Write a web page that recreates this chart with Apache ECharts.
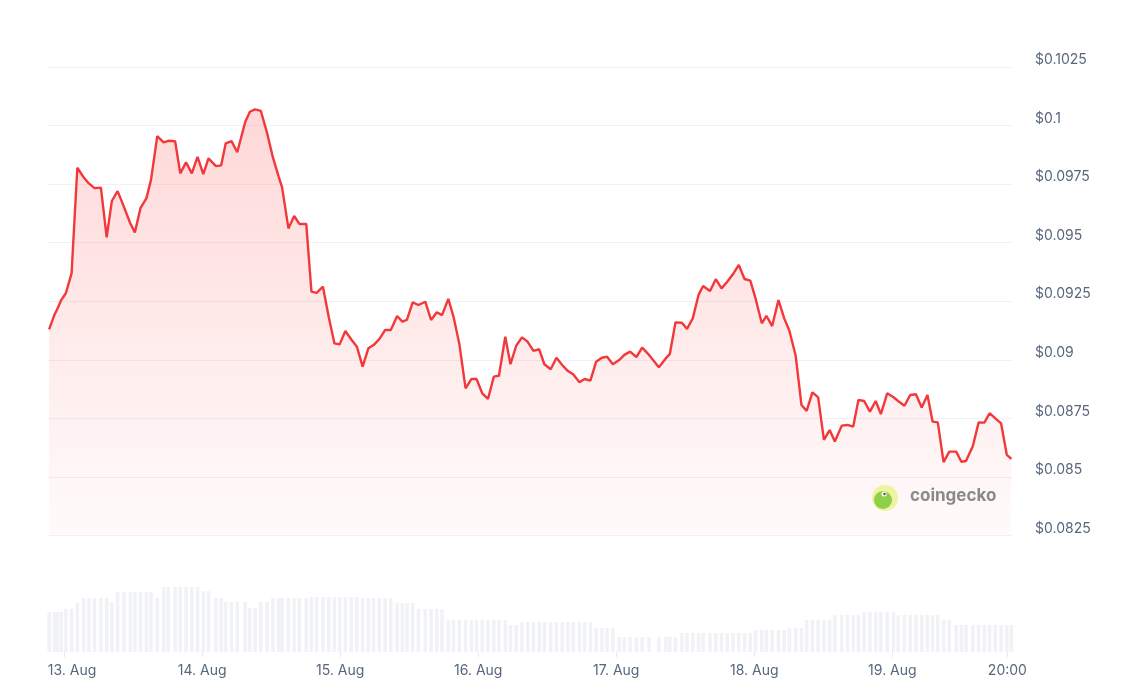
<!DOCTYPE html>
<html>
<head>
<meta charset="utf-8">
<script src="https://cdn.jsdelivr.net/npm/echarts@6/dist/echarts.min.js"></script>
<style>
html,body{margin:0;padding:0;background:#fff;}
#chart{width:1141px;height:695px;}
</style>
</head>
<body>
<div id="chart"></div>
<script>
// Hours since 13 Aug 00:00
const hours = [
-2.6,-1.7,-1.2,-0.5,0.3,1.3,2.3,3.4,4.3,5.3,
6.4,7.4,8.3,9.3,10.4,11.5,12.3,13.3,14.3,15.1,
16.2,17.3,18.1,19.3,20.2,21.2,22.2,23.2,24.2,25.1,
26.4,27.3,28.1,29.1,30.1,31.5,32.3,33.2,34.2,35.3,
36.3,37.3,37.9,39.0,40.0,40.9,42.1,43.0,43.9,45.0,
46.0,47.0,47.9,48.9,49.9,50.9,51.9,52.9,53.8,54.8,
55.8,56.8,57.9,58.8,59.6,60.6,61.6,62.8,63.8,64.8,
65.7,66.8,67.7,68.7,69.8,70.8,71.7,72.7,73.7,74.7,
75.6,76.7,77.6,78.6,79.6,80.6,81.6,82.6,83.5,84.6,
85.6,86.6,87.6,88.5,89.6,90.5,91.5,92.5,93.5,94.4,
95.4,96.5,97.4,98.4,99.5,100.5,101.7,103.4,104.6,105.3,
106.3,107.4,108.3,109.3,110.3,111.1,112.3,113.3,114.3,115.3,
116.3,117.3,118.3,119.3,120.2,121.3,122.1,123.1,124.2,125.2,
126.1,127.2,128.2,129.1,130.1,131.1,132.1,133.1,134.0,135.2,
136.2,137.2,138.1,139.1,140.1,141.1,142.0,143.1,144.2,145.0,
146.1,147.1,148.1,149.1,150.1,151.0,151.9,152.9,153.9,155.1,
156.0,156.8,158.0,159.0,160.0,160.9,161.9,162.9,163.9,164.7
];

const prices = [
0.09130,0.09191,0.09216,0.09255,0.09284,0.09369,0.09820,0.09779,0.09753,0.09733,
0.09735,0.09523,0.09678,0.09720,0.09653,0.09583,0.09544,0.09649,0.09689,0.09767,
0.09955,0.09928,0.09935,0.09933,0.09796,0.09843,0.09796,0.09866,0.09793,0.09860,
0.09827,0.09830,0.09924,0.09934,0.09886,0.10016,0.10059,0.10069,0.10063,0.09967,
0.09864,0.09782,0.09736,0.09561,0.09614,0.09580,0.09580,0.09291,0.09286,0.09312,
0.09184,0.09070,0.09066,0.09123,0.09088,0.09056,0.08971,0.09049,0.09063,0.09088,
0.09127,0.09127,0.09187,0.09163,0.09170,0.09245,0.09234,0.09248,0.09170,0.09203,
0.09191,0.09260,0.09184,0.09070,0.08878,0.08918,0.08918,0.08857,0.08833,0.08928,
0.08932,0.09099,0.08981,0.09060,0.09096,0.09077,0.09038,0.09045,0.08981,0.08960,
0.09009,0.08978,0.08952,0.08938,0.08904,0.08918,0.08911,0.08992,0.09009,0.09013,
0.08981,0.08999,0.09021,0.09035,0.09012,0.09052,0.09021,0.08968,0.09006,0.09024,
0.09160,0.09158,0.09132,0.09177,0.09277,0.09315,0.09294,0.09344,0.09305,0.09333,
0.09366,0.09405,0.09345,0.09338,0.09263,0.09156,0.09188,0.09144,0.09255,0.09177,
0.09124,0.09016,0.08807,0.08782,0.08861,0.08840,0.08658,0.08700,0.08651,0.08719,
0.08722,0.08715,0.08829,0.08824,0.08779,0.08824,0.08768,0.08857,0.08840,0.08824,
0.08804,0.08850,0.08853,0.08796,0.08850,0.08736,0.08733,0.08563,0.08608,0.08608,
0.08565,0.08568,0.08632,0.08733,0.08732,0.08772,0.08750,0.08729,0.08594,0.08577
];

// Volume (relative units)
const volumes = [
40,40,40,40,43,43,49,54,54,54,
54,54,50,60,60,60,60,60,60,60,
54,65,65,65,65,65,65,65,61,61,
54,54,50,50,50,50,44,44,50,50,
54,54,54,54,54,54,54,55,55,55,
55,55,55,55,55,55,54,54,54,54,
54,54,49,49,49,49,43,43,43,43,
43,32,32,32,32,32,32,32,32,32,
32,32,27,27,30,30,30,30,30,30,
30,30,30,30,30,30,30,24,24,24,
24,15,15,15,15,15,15,15,15,15,
15,19,19,19,19,19,19,19,19,19,
19,19,19,19,22,22,22,22,22,22,
24,24,24,32,32,32,32,32,37,37,
37,37,37,40,40,40,40,40,40,37,
37,37,37,37,37,37,37,32,32,27,
27,27,27,27,27,27,27,27,27,27
];

const tickHours = [0, 24, 48, 72, 96, 120, 144, 164];
const tickLabels = ['13. Aug', '14. Aug', '15. Aug', '16. Aug', '17. Aug', '18. Aug', '19. Aug', '20:00'];

const priceData = hours.map((h, i) => [h, prices[i]]);
const volData = hours.map((h, i) => [h, volumes[i]]);

const FONT = 'Inter, "Noto Sans", sans-serif';
const LABEL = '#58667e';
const xMin = -2.8, xMax = 164.8;

const chart = echarts.init(document.getElementById('chart'));
chart.setOption({
  animation: false,
  backgroundColor: '#ffffff',
  grid: [
    {left: 48, right: 129, top: 67, bottom: 159.5},
    {left: 48, right: 129, top: 582, bottom: 43}
  ],
  xAxis: [
    {
      type: 'value', gridIndex: 0, min: xMin, max: xMax,
      axisLine: {show: false}, axisTick: {show: false},
      axisLabel: {show: false}, splitLine: {show: false}
    },
    {
      type: 'value', gridIndex: 1, min: xMin, max: xMax,
      axisLine: {show: false},
      axisTick: {show: true, length: 5, lineStyle: {color: '#e6e8ec'}, customValues: tickHours},
      axisLabel: {
        show: true, customValues: tickHours, margin: 12,
        color: LABEL, fontFamily: FONT, fontSize: 14,
        formatter: function (v) {
          const i = tickHours.indexOf(Math.round(v));
          if (i === 0) return '{f|' + tickLabels[0] + '}';
          return i >= 0 ? tickLabels[i] : '';
        },
        rich: {f: {padding: [0, 0, 0, 16], color: LABEL, fontFamily: FONT, fontSize: 14}}
      },
      splitLine: {show: false}
    }
  ],
  yAxis: [
    {
      type: 'value', gridIndex: 0, position: 'right',
      min: 0.0825, max: 0.1025, interval: 0.0025,
      axisLine: {show: false}, axisTick: {show: false},
      axisLabel: {
        margin: 23, align: 'left', verticalAlign: 'bottom',
        color: LABEL, fontFamily: FONT, fontSize: 14,
        formatter: function (v) { return '$' + parseFloat(v.toFixed(4)); }
      },
      splitLine: {show: true, lineStyle: {color: '#f1f2f4', width: 1}}
    },
    {
      type: 'value', gridIndex: 1, min: 0, max: 70,
      axisLine: {show: false}, axisTick: {show: false},
      axisLabel: {show: false}, splitLine: {show: false}
    }
  ],
  series: [
    {
      type: 'bar', xAxisIndex: 1, yAxisIndex: 1, data: volData,
      barWidth: 3.5, itemStyle: {color: '#f0f2f6'}, silent: true
    },
    {
      type: 'line', xAxisIndex: 0, yAxisIndex: 0, data: priceData,
      showSymbol: false, smooth: false,
      lineStyle: {color: '#f2383a', width: 2.4},
      areaStyle: {
        color: new echarts.graphic.LinearGradient(0, 0, 0, 1, [
          {offset: 0, color: 'rgba(255,70,70,0.30)'},
          {offset: 1, color: 'rgba(255,70,70,0.03)'}
        ])
      },
      z: 3
    }
  ],
  graphic: [
    {type: 'circle', shape: {cx: 885, cy: 498, r: 13}, style: {fill: '#eef3a0'}, z: 10},
    {type: 'circle', shape: {cx: 883, cy: 500, r: 9}, style: {fill: '#8fcf4a'}, z: 11},
    {type: 'circle', shape: {cx: 884, cy: 494, r: 2.5}, style: {fill: '#ffffff'}, z: 12},
    {type: 'circle', shape: {cx: 884.5, cy: 494, r: 1.2}, style: {fill: '#4a4a4a'}, z: 13},
    {type: 'text', left: 910, top: 487, style: {text: 'coingecko', fill: '#8a8a8a', font: 'bold 17px ' + FONT}, z: 10}
  ]
});
</script>
</body>
</html>
